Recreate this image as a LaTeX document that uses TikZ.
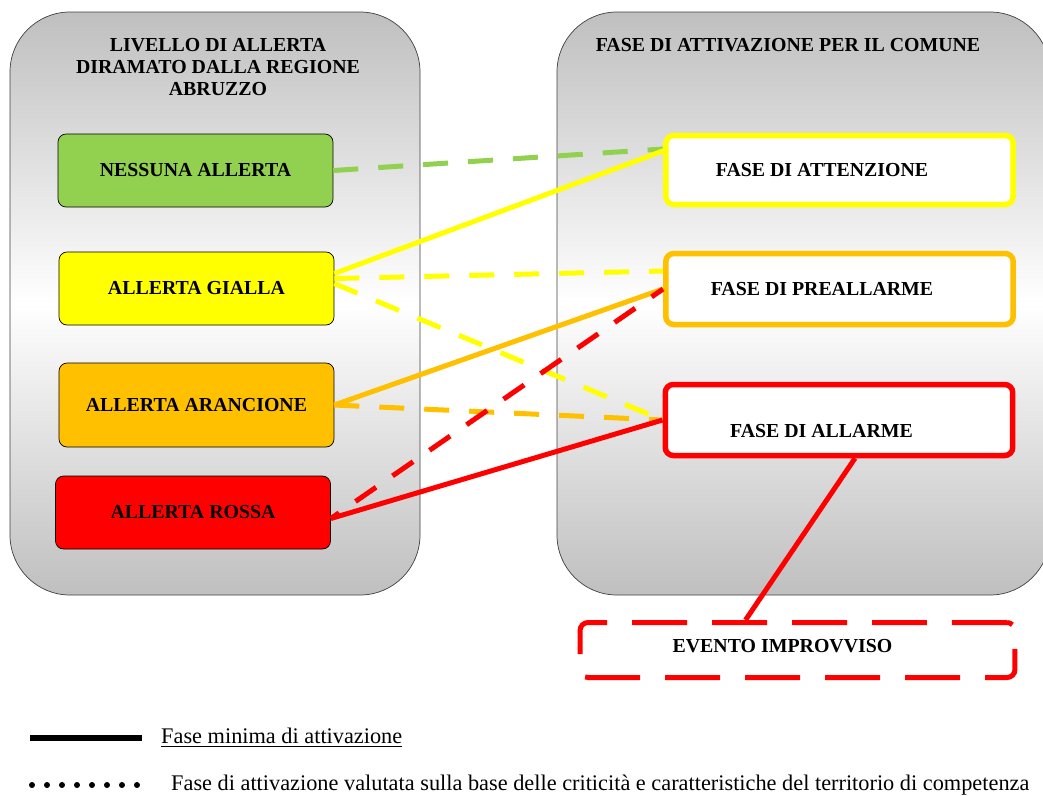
\documentclass[tikz,border=0pt]{standalone}
\usepackage{fontspec}
\setmainfont{Liberation Serif}

\definecolor{verde}{HTML}{92D050}
\definecolor{giallo}{HTML}{FFFF00}
\definecolor{arancio}{HTML}{FFC000}
\definecolor{rosso}{HTML}{FF0000}

\begin{document}
\begin{tikzpicture}[x=0.02cm,y=-0.02cm]

\tikzset{contenitore/.style = {draw=black!75, rounded corners=1.2cm, top color=black!25, bottom color=black!25, middle color=white}}
\tikzset{titolo/.style = {align=center, font=\bfseries\fontsize{11.3}{12.5}\selectfont}}
\tikzset{livello/.style = {shape=rectangle, rounded corners=0.16cm, draw, minimum width=5.5cm, minimum height=1.46cm, font=\bfseries\fontsize{11.3}{12.5}\selectfont}}
\tikzset{fase/.style = {shape=rectangle, rounded corners=0.16cm, draw, fill=white, line width=0.11cm, minimum width=6.95cm, minimum height=1.38cm, font=\bfseries\fontsize{11.3}{12.5}\selectfont}}
\tikzset{minima/.style = {line width=0.1cm}}
\tikzset{valutata/.style = {line width=0.1cm, dash pattern=on 0.5cm off 0.4cm}}
\tikzset{legenda/.style = {anchor=west, font=\fontsize{12.7}{14}\selectfont}}

\useasboundingbox (0,0) rectangle (1043,795);

% contenitori
\path[contenitore] (10,12) rectangle (420,595);
\path[contenitore] (557,12) rectangle (1050,595);
\node[titolo] (titsx) at (218,67) {LIVELLO DI ALLERTA\\DIRAMATO DALLA REGIONE\\ABRUZZO};
\node[titolo] (titdx) at (788,45) {FASE DI ATTIVAZIONE PER IL COMUNE};

% livelli di allerta
\node[livello, fill=verde] (nessuna) at (195.5,170.5) {NESSUNA ALLERTA};
\node[livello, fill=giallo] (gialla) at (196.5,288.5) {ALLERTA GIALLA};
\node[livello, fill=arancio, minimum height=1.68cm] (arancione) at (196.5,405) {ALLERTA ARANCIONE};
\node[livello, fill=rosso] (rossa) at (193,512.5) {ALLERTA ROSSA};

% fasi
\node[fase, draw=giallo] (attenzione) at (839.5,170) {\hspace*{-0.7cm}FASE DI ATTENZIONE};
\node[fase, draw=arancio, minimum height=1.42cm] (preallarme) at (839.5,289) {\hspace*{-0.7cm}FASE DI PREALLARME};
\node[fase, draw=rosso, minimum height=1.42cm] (allarme) at (839,420) {\hspace*{-0.7cm}\raisebox{-0.22cm}[\height][\depth]{FASE DI ALLARME}};
\node[fase, draw=rosso, line width=0.1cm, minimum width=8.7cm, minimum height=1.1cm,
      dash pattern=on 1.1cm off 0.5cm] (evento) at (797.5,650) {\hspace*{-0.6cm}\raisebox{0.08cm}[\height][\depth]{EVENTO IMPROVVISO}};

%edges
\draw[valutata, verde] (nessuna.east) -- ([yshift=0.42cm]attenzione.west);
\draw[minima, giallo] ([yshift=0.3cm]gialla.east) -- ([yshift=0.42cm, xshift=0.1cm]attenzione.west);
\draw[valutata, giallo] ([yshift=0.2cm]gialla.east) -- ([yshift=0.36cm]preallarme.west);
\draw[valutata, giallo] ([yshift=0.1cm]gialla.east) -- (allarme.west);
\draw[minima, arancio] (arancione.east) -- (preallarme.west);
\draw[valutata, arancio] (arancione.east) -- (allarme.west);
\draw[valutata, rosso, dash phase=0.3cm] ([yshift=-0.12cm]rossa.east) -- (preallarme.west);
\draw[minima, rosso] ([yshift=-0.12cm]rossa.east) -- (allarme.west);
\draw[minima, rosso] ([xshift=0.32cm]allarme.south) -- ([xshift=-1.04cm]evento.north);

% legenda
\coordinate (m1) at (30,738);
\coordinate (m2) at (142,738);
\draw[line width=0.12cm] (m1) -- (m2);
\node[legenda] (legminima) at (155,738) {\underline{Fase minima di attivazione}};
\coordinate (v1) at (32,785);
\coordinate (v2) at (138,785);
\draw[line width=0.12cm, line cap=round, dash pattern=on 0pt off 0.3cm] (v1) -- (v2);
\node[legenda] (legvalutata) at (165,785) {Fase di attivazione valutata sulla base delle criticità e caratteristiche del territorio di competenza};

\end{tikzpicture}
\end{document}
